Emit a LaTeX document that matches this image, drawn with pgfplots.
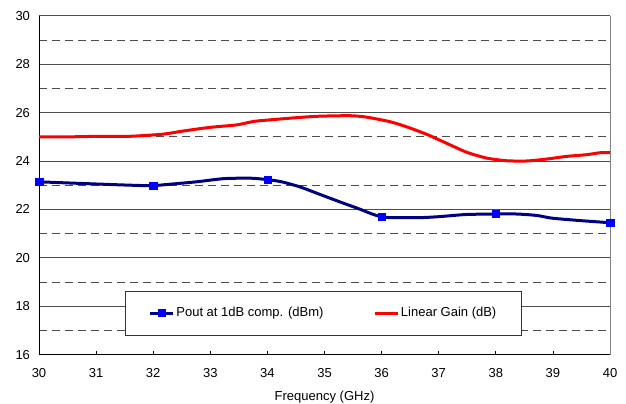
\documentclass[border=0pt]{standalone}
\usepackage{pgfplots}
\pgfplotsset{compat=1.18}
\usepackage{fontspec}
\setmainfont{Liberation Sans}
\definecolor{pnavy}{RGB}{0,0,128}
\definecolor{pblue}{RGB}{0,0,255}
\definecolor{pred}{RGB}{255,0,0}
\begin{document}
\begin{tikzpicture}[x=1bp,y=1bp]
\useasboundingbox (0,0) rectangle (626,403);
\begin{axis}[
  at={(39bp,48.3bp)}, anchor=south west,
  width=571bp, height=339bp, scale only axis,
  xmin=30, xmax=40, ymin=16, ymax=30,
  xtick={30,31,...,40}, ytick={16,18,...,30},
  minor ytick={17,19,...,29},
  axis lines=left, axis line style={-, black, line width=1bp},
  ymajorgrids, yminorgrids,
  major grid style={black!70, line width=0.8bp},
  minor grid style={black!70, line width=0.8bp, dash pattern=on 8bp off 5bp},
  tick align=inside,
  xtick style={black, line width=0.8bp},
  major tick length=3.5bp,
  ytick style={draw=none}, minor tick length=0pt,
  tick label style={font=\fontsize{13bp}{15bp}\selectfont},
  /pgf/number format/assume math mode=true,
  xticklabel style={yshift=-10bp},
  yticklabel style={xshift=-5.5bp},
  xlabel={Frequency (GHz)},
  every axis x label/.style={at={(axis description cs:0.5,0)}, anchor=north, yshift=-33bp, font=\fontsize{13bp}{15bp}\selectfont},
  clip=false,
  legend columns=2,
  legend style={at={(axis description cs:0.498,0.1224)}, anchor=center,
    draw=black!80, line width=0.8bp, fill=white,
    inner xsep=23bp, inner ysep=16bp,
    font=\fontsize{13bp}{15bp}\selectfont,
    nodes={inner xsep=1.7bp, inner ysep=0bp, text height=9.5bp, text depth=3bp},
    /tikz/every even column/.append style={column sep=48bp}},
]
\draw[black!50, line width=1bp] (rel axis cs:1,0) -- (rel axis cs:1,1);
\addplot[pnavy, line width=3bp, smooth, tension=0.4, line join=round, forget plot] coordinates {
(30,23.14) (30.43,23.10) (31.0,23.05) (31.6,23.0) (31.98,22.98) (32.29,23.04) (32.76,23.14)
(33.23,23.27) (33.7,23.29) (34.0,23.23) (34.25,23.14) (34.57,22.93) (34.92,22.62) (35.27,22.31)
(35.62,22.01) (35.8,21.84) (36.0,21.69) (36.2,21.66) (36.67,21.66) (37.0,21.7) (37.48,21.79)
(38.0,21.81) (38.37,21.81) (38.72,21.75) (38.98,21.64) (39.47,21.54) (40,21.45)
};
\addplot[only marks, mark=square*, mark size=3.7bp, pblue, mark options={draw=pblue, fill=pblue},
  legend image code/.code={\draw[pnavy, line width=3bp] (0bp,0bp) -- (23bp,0bp); \fill[pblue] (8bp,-3.5bp) rectangle (15bp,3.5bp);}]
  coordinates {(30,23.14)(32,22.98)(34,23.23)(36,21.69)(38,21.82)(40,21.45)};
\addlegendentry{Pout at 1dB comp. (dBm)}
\addplot[pred, line width=3bp, smooth, tension=0.4, line join=round,
  legend image code/.code={\draw[pred, line width=3bp] (0bp,0bp) -- (23bp,0bp);}] coordinates {
(30,25.0) (30.6,25.0) (31.07,25.02) (31.6,25.02) (32.18,25.11) (32.53,25.24) (33.0,25.39)
(33.46,25.49) (33.75,25.63) (34.0,25.69) (34.57,25.8) (34.92,25.85) (35.45,25.87) (35.74,25.81)
(36.15,25.62) (36.44,25.41) (36.79,25.1) (37.14,24.73) (37.49,24.36) (37.84,24.12) (38.19,24.01)
(38.54,24.0) (38.89,24.08) (39.24,24.19) (39.59,24.26) (39.82,24.34) (40,24.35)
};
\addlegendentry{Linear Gain (dB)}
\end{axis}
\end{tikzpicture}
\end{document}
